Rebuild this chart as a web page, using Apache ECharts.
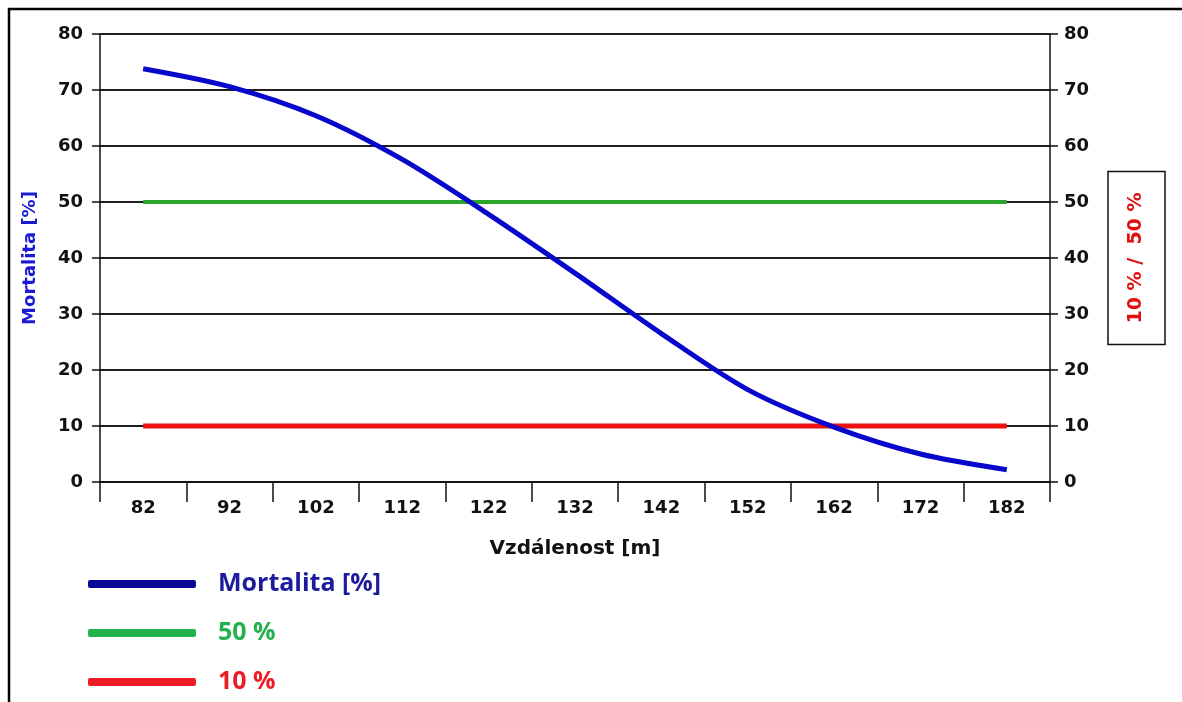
<!DOCTYPE html>
<html>
<head>
<meta charset="utf-8">
<script src="https://cdn.jsdelivr.net/npm/echarts@6/dist/echarts.min.js"></script>
<style>
	html, body { margin: 0; padding: 0; background: #fff; }
	#chart { width: 1182px; height: 702px; }
</style>
</head>
<body>
<div id="chart"></div>
<script>
	// distances [m]
	var distances = ['82', '92', '102', '112', '122', '132', '142', '152', '162', '172', '182'];
	// mortality curve [%]
	var mortality = [73.8, 70.6, 65.4, 57.6, 47.8, 37.3, 26.5, 16.5, 9.8, 5.0, 2.2];
	// threshold lines
	var level50 = [50, 50, 50, 50, 50, 50, 50, 50, 50, 50, 50];
	var level10 = [10, 10, 10, 10, 10, 10, 10, 10, 10, 10, 10];

	var tickFont = {
		fontFamily: 'DejaVu Sans',
		fontWeight: 'bold',
		fontSize: 18,
		color: '#111'
	};
	var legendFont = 'Open Sans';

	// shallow merge helper
	function $extend(target, src){
		for(var k in src){
			if(src.hasOwnProperty(k) && target[k] === undefined)
				target[k] = src[k];
		}
		return target;
	}

	var chart = echarts.init(document.getElementById('chart'));

	var yAxisBase = {
		type: 'value',
		min: 0,
		max: 80,
		interval: 10,
		axisLine: { show: true, lineStyle: { color: '#111', width: 1.5 } },
		axisTick: { show: true, inside: false, length: 8, lineStyle: { color: '#111', width: 1.5 } },
		splitLine: { show: true, lineStyle: { color: '#111', width: 1.5 } }
	};

	chart.setOption({
		animation: false,
		backgroundColor: '#fff',
		grid: {
			left: 100,
			right: 132,
			top: 34,
			bottom: 220,
			outerBoundsMode: 'none'
		},
		graphic: [
			// outer frame (top and left edges)
			{
				type: 'line',
				shape: { x1: 8, y1: 9, x2: 1182, y2: 9 },
				style: { stroke: '#000', lineWidth: 2.5 }
			},
			{
				type: 'line',
				shape: { x1: 9, y1: 8, x2: 9, y2: 702 },
				style: { stroke: '#000', lineWidth: 2.5 }
			}
		],
		legend: {
			orient: 'vertical',
			left: 83,
			top: 566,
			height: 136,
			itemWidth: 108,
			itemHeight: 8,
			itemGap: 23,
			icon: 'roundRect',
			selectedMode: false,
			data: [
				{
					name: 'Mortalita [%]',
					itemStyle: { color: '#0a0a96' },
					textStyle: { color: '#1c1c9c' }
				},
				{
					name: '50 %',
					itemStyle: { color: '#22b14c' },
					textStyle: { color: '#22b14c' }
				},
				{
					name: '10 %',
					itemStyle: { color: '#ed1c24' },
					textStyle: { color: '#ed1c24' }
				}
			],
			textStyle: {
				fontFamily: legendFont,
				fontWeight: 'bold',
				fontSize: 25,
				lineHeight: 26,
				padding: [0, 0, 0, 17]
			}
		},
		xAxis: {
			type: 'category',
			data: distances,
			boundaryGap: true,
			name: 'Vzdálenost [m]',
			nameLocation: 'middle',
			nameGap: 57,
			nameTextStyle: {
				fontFamily: 'DejaVu Sans',
				fontWeight: 'bold',
				fontSize: 20,
				color: '#111'
			},
			axisLine: { show: true, onZero: false, lineStyle: { color: '#111', width: 1.5 } },
			axisTick: {
				show: true,
				interval: 0,
				alignWithLabel: false,
				length: 20,
				lineStyle: { color: '#111', width: 1.5 }
			},
			axisLabel: $extend({ interval: 0, margin: 17 }, tickFont),
			splitLine: { show: false }
		},
		yAxis: [
			$extend({
				position: 'left',
				name: 'Mortalita [%]',
				nameLocation: 'middle',
				nameRotate: 90,
				nameGap: 61,
				nameTextStyle: {
					fontFamily: 'DejaVu Sans',
					fontWeight: 'bold',
					fontSize: 18,
					color: '#1a1ad0'
				},
				axisLabel: $extend({ margin: 17 }, tickFont)
			}, yAxisBase),
			$extend({
				position: 'right',
				name: '10 % /  50 %',
				nameLocation: 'middle',
				nameRotate: 90,
				nameGap: 58,
				nameTextStyle: {
					fontFamily: 'DejaVu Sans',
					fontWeight: 'bold',
					fontSize: 19,
					lineHeight: 21,
					color: '#e01010',
					borderColor: '#111',
					borderWidth: 1.5,
					padding: [18, 21, 18, 21]
				},
				axisLabel: $extend({ margin: 14 }, tickFont)
			}, yAxisBase)
		],
		series: [
			{
				name: '50 %',
				type: 'line',
				yAxisIndex: 1,
				data: level50,
				symbol: 'none',
				lineStyle: { color: '#2ca52c', width: 4 },
				itemStyle: { color: '#2ca52c' },
				z: 2
			},
			{
				name: '10 %',
				type: 'line',
				yAxisIndex: 1,
				data: level10,
				symbol: 'none',
				lineStyle: { color: '#ee1111', width: 5 },
				itemStyle: { color: '#ee1111' },
				z: 3
			},
			{
				name: 'Mortalita [%]',
				type: 'line',
				yAxisIndex: 0,
				data: mortality,
				symbol: 'none',
				smooth: 0.3,
				lineStyle: { color: '#0808cc', width: 5 },
				itemStyle: { color: '#0808cc' },
				z: 4
			}
		]
	});
</script>
</body>
</html>
